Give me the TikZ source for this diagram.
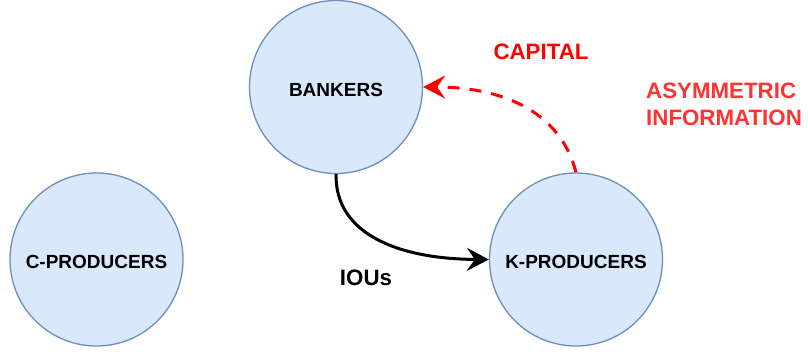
\documentclass[tikz,border=0pt]{standalone}
\usepackage{fontspec}
\setmainfont{Liberation Sans}
\usetikzlibrary{arrows.meta}
\definecolor{fillblue}{HTML}{DAE8FC}
\definecolor{strokeblue}{HTML}{6C8EBF}
\definecolor{lightred}{HTML}{FF3333}
\tikzset{
  blob/.style={circle, draw=strokeblue, fill=fillblue, line width=1.3pt, minimum size=173pt, inner sep=0pt,
    font=\fontsize{19}{23}\selectfont\bfseries, text height=18.6pt},
  flow/.style={line width=3pt, -{Stealth[length=22pt,width=23pt,inset=8pt]}},
  lbl/.style={font=\fontsize{22.3}{27}\selectfont\bfseries, inner sep=0pt}
}
\begin{document}
\begin{tikzpicture}[x=1pt,y=-1pt]
\useasboundingbox (0,0) rectangle (808,351);
\node[blob] (bank) at (336,87) {BANKERS};
\node[blob] (cp) at (96.5,259.5) {C-PRODUCERS};
\node[blob] (kp) at (576,259.5) {K-PRODUCERS};
\draw[flow, black] (bank.south) .. controls (335,235) and (400,259) .. (kp.west);
\draw[flow, red, dash pattern=on 12pt off 10pt] (kp.north) .. controls (560,110) and (500,87) .. (bank.east);
\node[lbl, black] (ious) at (366,278) {IOUs};
\node[lbl, red] (capital) at (541,51.5) {CAPITAL};
\node[lbl, lightred, anchor=base west, align=left] (asym) at (646,125) {ASYMMETRIC\\INFORMATION};
\end{tikzpicture}
\end{document}
